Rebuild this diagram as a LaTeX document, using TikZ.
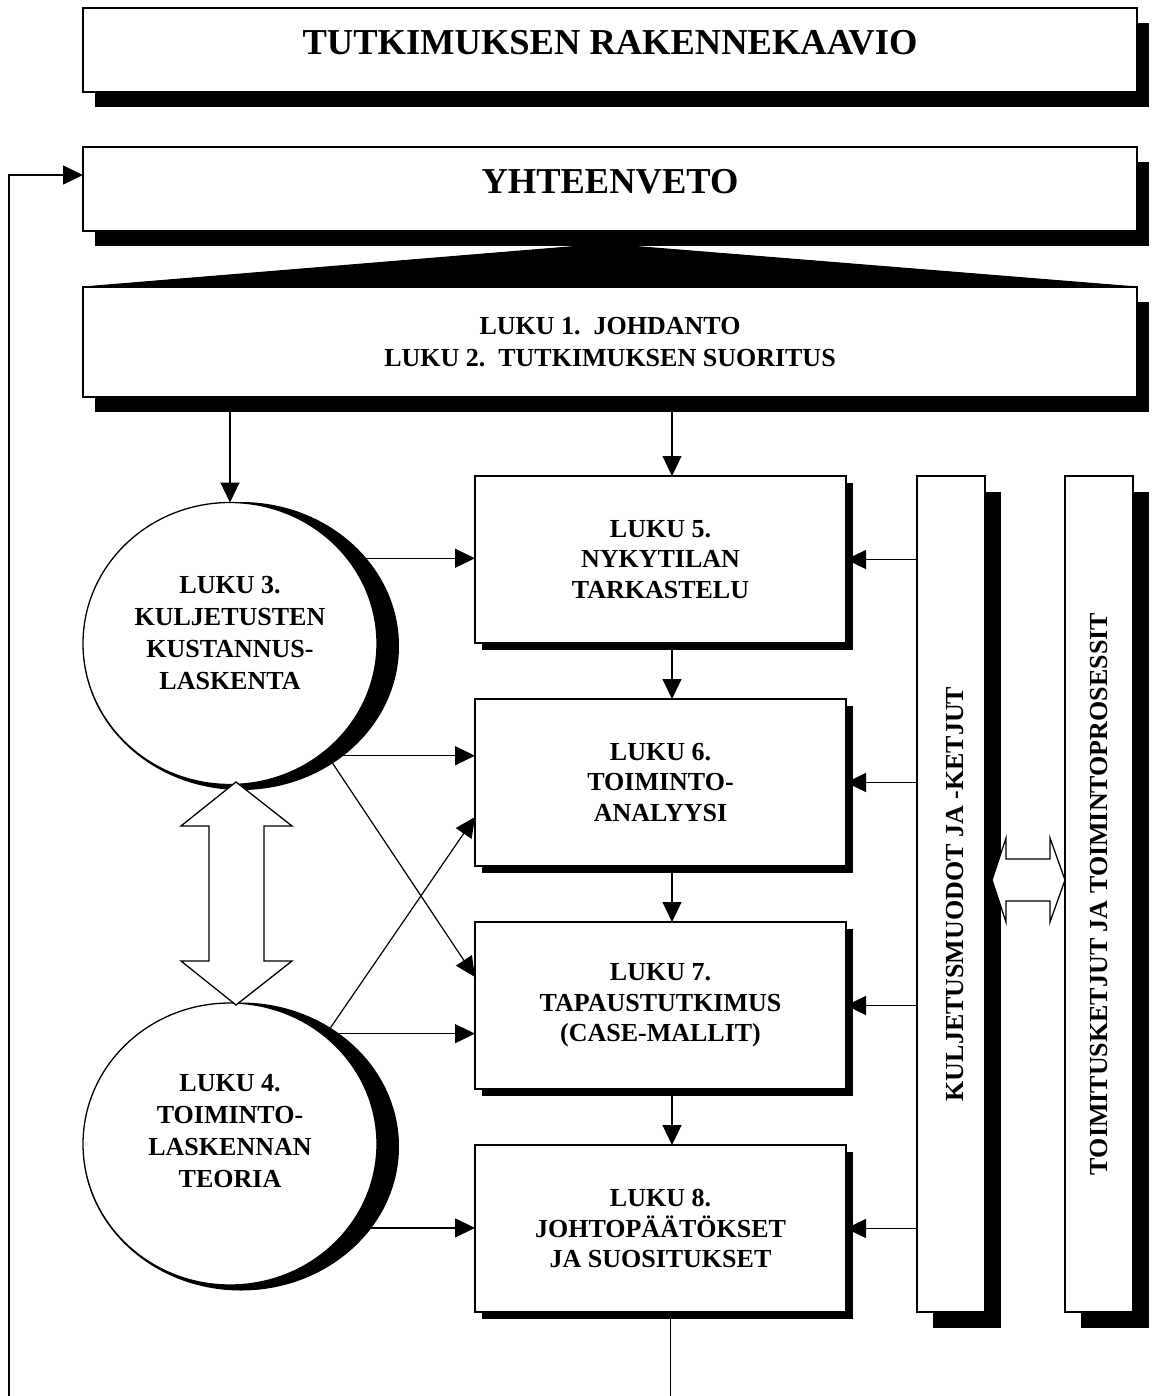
\documentclass[tikz,border=0pt]{standalone}
\usepackage{fontspec}
\setmainfont{Liberation Serif}
\usetikzlibrary{arrows.meta,shapes.geometric,shadows}
\newcommand\boxfont{\fontsize{26}{30.5}\selectfont\bfseries}
\newcommand\circfont{\fontsize{26}{32}\selectfont\bfseries}
\newcommand\introfont{\fontsize{26}{32}\selectfont\bfseries}
\newcommand\headfont{\fontsize{36.5}{40}\selectfont\bfseries}
\begin{document}
\begin{tikzpicture}[x=1pt,y=-1pt,
  plainbox/.style={draw, fill=white, line width=1.5pt, inner sep=0pt, outer sep=0pt},
  wideshadow/.style={drop shadow={shadow xshift=12pt, shadow yshift=-15pt, opacity=1, fill=black}},
  boxshadow/.style={drop shadow={shadow xshift=7pt, shadow yshift=-7pt, opacity=1, fill=black}},
  barshadow/.style={drop shadow={shadow xshift=16pt, shadow yshift=-16pt, opacity=1, fill=black}},
  widebox/.style={plainbox, wideshadow, minimum width=1054pt},
  chapbox/.style={plainbox, boxshadow, minimum width=371pt, minimum height=167pt,
    align=center, font=\boxfont},
  sidebar/.style={plainbox, barshadow, minimum width=68pt, minimum height=836pt},
  circshadow/.style={ellipse, fill=black, inner sep=0pt, outer sep=0pt,
    minimum width=316pt, minimum height=288pt},
  chapcirc/.style={ellipse, draw, fill=white, line width=1.3pt, inner sep=0pt, outer sep=0pt,
    minimum width=294pt, minimum height=282pt},
  arr/.style={line width=1.2pt, -{Triangle[length=20pt,width=19pt]}},
  link/.style={line width=1.2pt},
  dbl/.style={draw, fill=white, line width=1.3pt, line join=miter}]

\useasboundingbox (0,0) rectangle (1151,1396);

% heading boxes
\node[widebox, minimum height=84pt,
  label={[font=\headfont, yshift=7pt]center:TUTKIMUKSEN RAKENNEKAAVIO}]
  (title) at (610,50) {};
\node[widebox, minimum height=84pt,
  label={[font=\headfont, yshift=7pt]center:YHTEENVETO}]
  (yht) at (610,189) {};
\node[widebox, minimum height=110pt, align=center, font=\introfont]
  (intro) at (610,342) {LUKU 1.~~JOHDANTO\\LUKU 2.~~TUTKIMUKSEN SUORITUS};

% black wedge between summary and introduction
\filldraw[line width=1pt] (intro.north west) -- (605,244) -- (intro.north east) -- cycle;

% theory circles with their shadows
\node[circshadow] (s3) at (241,646) {};
\node[chapcirc,
  label={[font=\circfont, align=center, yshift=10.5pt]center:LUKU 3.\\KULJETUSTEN\\KUSTANNUS-\\LASKENTA}]
  (c3) at (230,643.5) {};
\node[circshadow] (s4) at (241,1146.5) {};
\node[chapcirc,
  label={[font=\circfont, align=center, yshift=12.5pt]center:LUKU 4.\\TOIMINTO-\\LASKENNAN\\TEORIA}]
  (c4) at (230,1144) {};

% chapter boxes
\node[chapbox] (box5) at (660.5,559.5) {LUKU 5.\\NYKYTILAN\\TARKASTELU};
\node[chapbox] (box6) at (660.5,782.5) {LUKU 6.\\TOIMINTO-\\ANALYYSI};
\node[chapbox] (box7) at (660.5,1005.5) {LUKU 7.\\TAPAUSTUTKIMUS\\(CASE-MALLIT)};
\node[chapbox] (box8) at (660.5,1228.5) {LUKU 8.\\JOHTOPÄÄTÖKSET\\JA SUOSITUKSET};

% vertical context bars
\node[sidebar, label={[rotate=90, font=\boxfont, yshift=-4pt]center:KULJETUSMUODOT JA -KETJUT}]
  (kbox) at (951,894) {};
\node[sidebar, label={[rotate=90, font=\boxfont]center:TOIMITUSKETJUT JA TOIMINTOPROSESSIT}]
  (tbox) at (1099,894) {};

% flow from the introduction
\draw[arr] (intro.south -| c3.north) -- (c3.north);
\coordinate (d5) at ([xshift=11.5pt]box5.north);
\coordinate (d6) at ([xshift=11.5pt]box6.north);
\coordinate (d7) at ([xshift=11.5pt]box7.north);
\coordinate (d8) at ([xshift=11.5pt]box8.north);
\draw[arr] (intro.south -| d5) -- (d5);
\draw[arr] (box5.south -| d6) -- (d6);
\draw[arr] (box6.south -| d7) -- (d7);
\draw[arr] (box7.south -| d8) -- (d8);

% context bar feeds every chapter box
\foreach \b in {box5,box6,box7,box8}
  \draw[arr] (kbox.west |- \b.east) -- (\b.east);

% theory circles feed the chapter boxes
\draw[arr] (s3.35) -- (s3.35 -| box5.west);
\draw[arr] (s3.-47) -- (s3.-47 -| box6.west);
\draw[arr] (s3.-52) -- ([yshift=28.5pt]box7.west);
\draw[arr] (s4.53) -- ([yshift=-34.5pt]box6.west);
\draw[arr] (s4.49) -- (s4.49 -| box7.west);
\draw[arr] (s4.-32) -- (s4.-32 -| box8.west);

% feedback loop to the summary
\coordinate (bot) at (0,1396);
\coordinate (fb) at ([xshift=10pt]box8.south);
\draw[link] (fb) -- (fb |- bot);
\coordinate (lb) at (9,1396);
\coordinate (yin) at ([yshift=14pt]yht.west);
\draw[arr] (lb) |- (yin);

% two-way links
\draw[dbl] (236,782) -- (292,826) -- (264,826) -- (264,961) -- (292,961) -- (236,1005)
  -- (181,961) -- (209,961) -- (209,826) -- (181,826) -- cycle;
\draw[dbl] (992,880) -- (1006,838) -- (1006,859) -- (1050,859) -- (1050,838) -- (1065,880)
  -- (1050,922) -- (1050,901) -- (1006,901) -- (1006,922) -- cycle;
\end{tikzpicture}
\end{document}
